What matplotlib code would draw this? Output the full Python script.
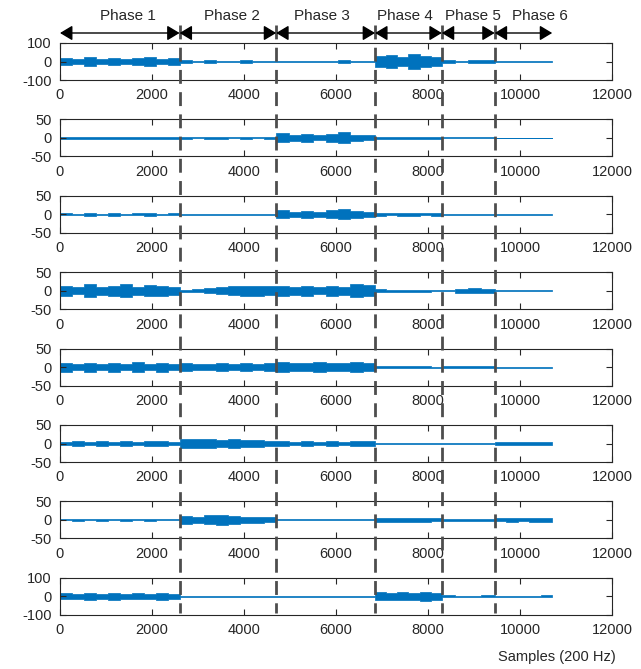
import matplotlib.pyplot as plt
import numpy as np

plt.rcParams['font.family'] = ['Liberation Sans', 'DejaVu Sans']
plt.rcParams['axes.unicode_minus'] = False

# phase boundaries (samples) and names
phase_edges = [0, 2600, 4700, 6850, 8300, 9450, 10700]
phase_names = ['Phase 1', 'Phase 2', 'Phase 3', 'Phase 4', 'Phase 5', 'Phase 6']
phase_label_x = [1480, 3740, 5700, 7500, 8980, 10430]

# y limits of each channel
ylims = [100, 50, 50, 50, 50, 50, 50, 100]

# estimated signal amplitude (half width of the band) per phase, per channel
ch1 = [[19, 14, 23, 16, 21, 14, 19, 25, 16, 21],
       [7, 5, 6, 4, 5, 6, 4, 5],
       [3, 2, 5, 2, 3, 7, 2, 3],
       [28, 36, 24, 40, 30, 26],
       [7, 5, 8, 6],
       [1.5, 1.5, 1.5, 1.5, 1.5]]
ch2 = [[2.5, 2, 3.5, 2, 2.5, 3.5, 2, 2.5, 3.5, 2],
       [2, 1.5, 2.5, 2, 1.5, 2.5, 1.5, 2],
       [12, 8, 11, 7, 11, 15, 9, 7],
       [3.5, 2.5, 2, 3.5, 2.5, 2],
       [1.5, 1.5, 1.5, 1.5],
       [1, 1, 1, 1, 1]]
ch3 = [[2.5, 2, 3.5, 2, 3.5, 2, 2.5, 3.5, 2, 2.5],
       [1.5, 1.5, 1.5, 1.5, 1.5, 1.5, 1.5, 1.5],
       [11, 7, 10, 7, 11, 14, 9, 7],
       [3.5, 2.5, 3.5, 3.5, 2.5, 3.5],
       [1, 1, 1, 1],
       [1, 1, 1, 1, 1]]
ch4 = [[14, 10, 17, 11, 14, 18, 11, 15, 14, 11],
       [3, 4, 6, 9, 12, 13, 14, 12],
       [14, 11, 13, 10, 14, 11, 18, 15],
       [3.5, 2.5, 2.5, 2.5, 2.5, 1.5],
       [1.5, 5, 6, 5],
       [1, 1, 1, 1, 1]]
ch5 = [[12, 9, 12, 9, 12, 9, 13, 9, 12, 9],
       [11, 9, 8, 11, 9, 11, 9, 10],
       [14, 11, 10, 14, 11, 10, 13, 10],
       [2.5, 2, 2.5, 2, 2.5, 1.5],
       [2.5, 3.5, 3.5, 2.5],
       [1.5, 1.5, 1.5, 1.5, 1.5]]
ch6 = [[5, 6, 5, 6, 5, 6, 5, 6, 7, 5],
       [11, 12, 13, 10, 12, 10, 9, 8],
       [6, 5, 6, 5, 6, 5, 6, 7],
       [1.5, 2, 1.5, 2, 1.5, 1.5],
       [1.5, 2, 2.5, 2],
       [3.5, 3.5, 3.5, 4, 4.5]]
ch7 = [[1.5, 2, 1.5, 2, 1.5, 2, 1.5, 2, 1.5, 1.5],
       [11, 9, 12, 13, 10, 9, 8, 7],
       [1.5, 1.5, 1.5, 1.5, 1.5, 1.5, 1.5, 1.5],
       [6, 5, 6, 5, 5, 4],
       [2.5, 2.5, 2.5, 3.5],
       [4, 4.5, 4, 4.5, 5]]
ch8 = [[17, 14, 20, 15, 19, 14, 17, 14, 18, 15],
       [1.5, 1.5, 1.5, 1.5, 1.5, 1.5, 1.5, 2],
       [3.5, 3.5, 2.5, 3.5, 2.5, 3.5, 2.5, 2.5],
       [22, 18, 21, 18, 23, 20],
       [5, 4, 4, 5],
       [3.5, 3.5, 3.5, 3.5, 4.5]]
channels = [ch1, ch2, ch3, ch4, ch5, ch6, ch7, ch8]

W, H = 641, 669
left, right = 60, 612
blue = '#0072BD'
dark = '#262626'

fig = plt.figure(figsize=(W / 100, H / 100), dpi=100)

for i, ch in enumerate(channels):
    top = 43 + 76.4 * i
    ax = fig.add_axes([left / W, 1 - (top + 37) / H, (right - left) / W, 37 / H])
    xs, ys = [], []
    for k, vals in enumerate(ch):
        e = np.linspace(phase_edges[k], phase_edges[k + 1], len(vals) + 1)
        xs.extend(e[:-1])
        ys.extend(vals)
    xs.append(phase_edges[-1])
    ys.append(ch[-1][-1])
    xs = np.array(xs)
    ys = np.array(ys)
    ax.fill_between(xs, -ys, ys, step='post', color=blue, lw=0.5)
    lim = ylims[i]
    ax.set_xlim(0, 12000)
    ax.set_ylim(-lim, lim)
    ax.set_xticks(range(0, 12001, 2000))
    ax.set_yticks([-lim, 0, lim])
    ax.tick_params(direction='in', top=True, right=True, length=4, width=0.8,
                   labelsize=10.5, color=dark, labelcolor=dark, pad=6)
    for s in ax.spines.values():
        s.set_color(dark)
        s.set_linewidth(0.8)

# overlay for phase lines and arrows
ov = fig.add_axes([left / W, 0, (right - left) / W, 1])
ov.set_xlim(0, 12000)
ov.set_ylim(H, 0)
ov.axis('off')
ov.patch.set_alpha(0)
ov.vlines(phase_edges[1:-1], 25, 613, colors='#4d4d4d', linestyles=(0, (5, 3)), lw=2)
for k in range(len(phase_names)):
    ov.annotate('', xy=(phase_edges[k], 33), xytext=(phase_edges[k + 1], 33),
                arrowprops=dict(arrowstyle='<|-|>,head_length=0.5,head_width=0.3',
                                color='k', lw=1, shrinkA=0, shrinkB=0,
                                mutation_scale=15))
    ov.text(phase_label_x[k], 16, phase_names[k], ha='center', va='center',
            fontsize=11, color=dark)

fig.text(557 / W, 1 - 657 / H, 'Samples (200 Hz)', ha='center', va='center',
         fontsize=10.5, color=dark)

fig.savefig('out.png', dpi=100)
